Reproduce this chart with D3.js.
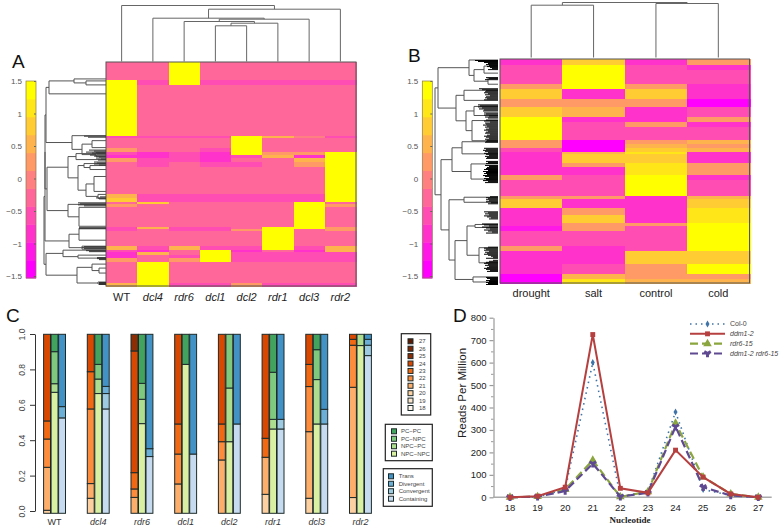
<!DOCTYPE html>
<html>
<head>
<meta charset="utf-8">
<style>
  body { margin: 0; background: #fff; }
  svg { display: block; font-family: "Liberation Sans", Arial, sans-serif; }
</style>
<script src="https://cdn.jsdelivr.net/npm/d3@7"></script>
</head>
<body>
<svg id="fig" width="784" height="528"></svg>
<script>
const Y = 1.5;
const P = -0.3; // base pink
const M = -0.6;
const H = -0.9;
const X = -1.5;

const heatColors = ['#ff00ff', '#ff19e6', '#ff33cc', '#ff4db3', '#ff6699', '#ff8080', '#ff9966', '#ffb34d', '#ffcc33', '#ffe619', '#ffff00'];
const barTicks = [-1.5, -1, -0.5, 0, 0.5, 1, 1.5];

// panel A: [row count, WT, dcl4, rdr6, dcl1, dcl2, rdr1, dcl3, rdr2]
const samplesA = ['WT', 'dcl4', 'rdr6', 'dcl1', 'dcl2', 'rdr1', 'dcl3', 'rdr2'];
const rowsA = [
  [18, P, P, Y, P, P, P, P, P],
  [5, Y, M, Y, M, M, M, M, M],
  [51, Y, P, P, P, P, P, P, P],
  [2, M, M, M, M, Y, 0.6, 0, M],
  [10, P, P, P, P, Y, P, P, P],
  [4, 0.3, P, P, M, Y, P, P, P],
  [3, M, H, M, H, Y, 0.3, 0.3, Y],
  [3, H, H, M, H, M, 0.6, H, Y],
  [4, 0.3, M, M, H, P, P, 0.6, Y],
  [5, P, M, P, M, M, P, 0.3, Y],
  [28, P, P, P, P, P, P, P, Y],
  [4, 0.6, M, M, M, M, M, M, Y],
  [4, 0.9, M, M, M, M, M, M, Y],
  [2, P, 0.9, P, P, P, P, Y, P],
  [3, 0.3, P, P, P, P, P, Y, 0.3],
  [20, P, P, P, P, P, P, Y, P],
  [2, M, 0.6, M, M, P, Y, Y, 0.3],
  [2, M, P, M, M, 0.3, Y, P, 0.3],
  [15, P, P, P, P, P, Y, P, P],
  [4, 0.6, M, 0.6, M, M, Y, M, 0.6],
  [2, M, H, P, Y, H, P, H, 0.6],
  [3, H, 0.6, P, Y, M, M, M, M],
  [3, H, P, M, Y, M, M, M, M],
  [4, 0.3, P, 0.3, Y, M, M, M, M],
  [21, P, Y, P, P, P, P, P, P],
  [3, 0.6, Y, M, M, 0.3, M, M, M],
];
const colTreeA = [56, 'WT', [52.3, [43.3, 'dcl4', [42.3, [40, 'rdr6', [38.3, [35.7, 'dcl1', 'dcl2'], 'rdr1']], 'dcl3']], 'rdr2']];
const rowTreeA = [62,
  [61,
    [61,
      [60,
        [57, 32, [32, 17, [20, 19, 23]]],
        [34, 74, [24, [14, 79, 86], [10, 91, 95]]],
      ],
      [59,
        [38, [30, 92, 98], [28, [22, 102, [16, 104, 108]], [20, [12, 115, 130], [8, 133, 137]]]],
        [38, 143, [27, 146, 165]],
      ],
    ],
    [37, [27, 167, 179], [24, 185, 188]],
  ],
  [60,
    [43, 189, [28, 194, 197]],
    [29, [14, 203, [7, 207, 212]], [8, 221, 223]],
  ],
];
// leaf bundles: [first row, reach of each following row]
const bundlesA = [
  [74, [22, 18]],
  [88, [17, 12, 20, 14, 9, 16, 12, 7, 10, 5, 8]],
  [100, [12, 9, 12, 7]],
  [135, [6, 10, 7]],
  [141, [28, 26, 28, 22]],
  [166, [27, 27]],
  [185, [22, 24, 22]],
  [189, [20, 17]],
  [196, [9, 9, 7]],
  [221, [7, 7, 7]],
];

// panel B: [row count, drought, salt, control, cold]
const samplesB = ['drought', 'salt', 'control', 'cold'];
const rowsB = [
  [6, H, 0.9, H, 0.3],
  [5, M, Y, M, H],
  [14, M, Y, M, M],
  [5, 0.3, Y, 0.3, H],
  [10, 0.9, H, 0.9, H],
  [8, 0.3, 0.3, 0.3, X],
  [9, 0.9, 0.6, H, M],
  [5, Y, H, H, 0.3],
  [5, Y, M, 0.3, H],
  [13, Y, M, M, M],
  [4, 0.3, X, 0.3, 0.6],
  [4, 0.3, X, 0.6, 0.3],
  [4, M, X, 0.9, 0.6],
  [2, H, 0.6, 1.2, H],
  [9, H, 0.9, 0.9, H],
  [4, H, 0.3, 1.2, 0.3],
  [8, H, H, 1.2, 0.3],
  [5, 0.3, M, Y, H],
  [16, M, M, Y, M],
  [3, 0.3, 0.3, H, 0.6],
  [9, 0.9, H, H, 0.9],
  [7, H, 0.3, H, 1.2],
  [8, H, 0.9, H, 1.2],
  [3, H, 0.3, 0.3, Y],
  [4, -1.2, 0.3, M, Y],
  [15, M, M, M, Y],
  [5, 0.3, H, M, Y],
  [13, H, H, 0.9, 0.9],
  [10, H, M, 0.3, Y],
  [5, X, 0.6, 0.3, 0.3],
  [4, X, 1.2, 0.6, 0.6],
];
const colTreeB = [55, [52.3, 'drought', 'salt'], [54, 'control', 'cold']];
const rowTreeB = [63,
  [60,
    [29, 1, [24, [14, 7, 14], [10, 19, 25]]],
    [42, [34, 31, 41], [32, [24, 47, 56], [26, 61, 81]]],
  ],
  [57,
    [46, [36, 82, 94], [27, 104, 119]],
    [49,
      [34, 137, 142],
      [43, [31, [23, 164, 167], [19, 187, 202]], [25, 216, 221]],
    ],
  ],
];
const bundlesB = [
  [1, [23, 20, 14, 10, 12, 9, 11, 8, 6, 10]],
  [18, [12, 9, 13]],
  [29, [19, 16, 12, 13, 14, 10, 13, 8, 12, 13, 11, 14]],
  [45, [20, 18, 20, 16, 19, 14, 15, 0, 14, 12, 14, 9, 13, 10, 0, 12, 14, 8, 13, 12, 15, 11, 13, 9, 12, 14, 10, 12, 13, 8, 11, 14, 12, 9, 13, 11, 12, 13]],
  [88, [14, 12, 15, 13, 10, 14, 12, 9, 13, 11, 12]],
  [101, [12, 10, 12, 0, 13, 9, 11, 12, 14, 10, 15, 12, 14, 11, 15, 13, 9, 14, 12, 15, 10, 13]],
  [136, [8, 12, 10, 12, 9, 12, 7, 10]],
  [151, [14, 10, 13, 9, 14, 11, 7, 9]],
  [163, [16, 14, 9, 16, 12, 8, 14, 10, 6, 12]],
  [186, [10, 14, 12, 14, 9, 13, 11, 14, 10, 7, 5, 12, 0, 5, 9, 12, 14, 10, 13, 9, 11, 14, 12, 8, 11]],
  [216, [12, 11, 8, 12, 9, 12, 10, 12]],
];

// panel C shares
const samplesC = ['WT', 'dcl4', 'rdr6', 'dcl1', 'dcl2', 'rdr1', 'dcl3', 'rdr2'];
const sizeKeys = ['18', '19', '20', '21', '22', '23', '24', '25', '26', '27'];
const sizeColors = ['#fff5eb', '#fee6ce', '#fdd0a2', '#fdae6b', '#fd8d3c', '#f16913', '#d94801', '#8c2d04', '#7f2704', '#5c1a02'];
const sizeShares = [
  [0, 0, 0.017, 0.24, 0.158, 0.101, 0.484, 0, 0, 0],
  [0, 0, 0.084, 0.082, 0.417, 0.208, 0.209, 0, 0, 0],
  [0, 0, 0, 0.089, 0.047, 0.091, 0.68, 0.093, 0, 0],
  [0, 0, 0, 0.164, 0.167, 0.168, 0.501, 0, 0, 0],
  [0, 0, 0, 0.298, 0.102, 0.099, 0.501, 0, 0, 0],
  [0, 0, 0.106, 0.207, 0, 0.106, 0.581, 0, 0, 0],
  [0, 0, 0.084, 0.372, 0.252, 0.124, 0.168, 0, 0, 0],
  [0, 0, 0.088, 0.616, 0.235, 0.033, 0.028, 0, 0, 0],
];
const pairKeys = ['NPC-NPC', 'NPC-PC', 'PC-NPC', 'PC-PC'];
const pairColors = ['#d9f0a3', '#addd8e', '#7fc97f', '#41a35d'];
const pairShares = [
  [0.676, 0.048, 0.179, 0.097],
  [0.669, 0.081, 0.082, 0.168],
  [0.501, 0.136, 0.089, 0.274],
  [0.832, 0, 0, 0.168],
  [0.4, 0.3, 0.3, 0],
  [0.471, 0.054, 0.263, 0.212],
  [0.499, 0.248, 0.167, 0.086],
  [0.937, 0.063, 0, 0],
];
const overlapKeys = ['Containing', 'Convergent', 'Divergent', 'Trans'];
const overlapColors = ['#c6dbef', '#9ecae1', '#6baed6', '#4292c6'];
const overlapShares = [
  [0.533, 0, 0.063, 0.404],
  [0.583, 0.086, 0.04, 0.291],
  [0.317, 0, 0.044, 0.639],
  [0.331, 0, 0, 0.669],
  [0.499, 0, 0, 0.501],
  [0.471, 0.054, 0, 0.475],
  [0.499, 0, 0.082, 0.419],
  [0.881, 0.058, 0.033, 0.028],
];

// panel D
const nucleotides = [18, 19, 20, 21, 22, 23, 24, 25, 26, 27];
const col0 = [0, 2, 35, 600, 5, 25, 380, 35, 8, 0];
const ddm12 = [0, 5, 45, 725, 40, 20, 210, 90, 15, 0];
const rdr615 = [0, 3, 35, 165, 2, 25, 330, 90, 15, 0];
const double15 = [0, 3, 28, 150, 3, 20, 315, 45, 8, 0];
const lineNames = ['Col-0', 'ddm1-2', 'rdr6-15', 'ddm1-2 rdr6-15'];

const svg = d3.select('#fig');
const heatColor = d3.scaleQuantize().domain([-1.65, 1.65]).range(heatColors);

const panelLetter = (txt, x, y) => {
  svg.append('text').attr('x', x).attr('y', y)
    .style('font-size', '19px').style('fill', '#111').text(txt);
};

// turn [height, left, right] arrays into a hierarchy and draw the elbows
const drawTree = (tree, leafPos, heightPos, horizontal, color) => {
  const root = d3.hierarchy(tree, d => (Array.isArray(d) ? d.slice(1) : null));
  const g = svg.append('g').attr('fill', 'none').attr('stroke', color);
  root.eachAfter((n) => {
    n.pos = n.children ? d3.mean(n.children, c => c.pos) : leafPos(n.data);
    n.at = heightPos(n.children ? n.data[0] : 0);
  });
  root.descendants().filter(n => n.children).forEach((n) => {
    const [a, b] = n.children;
    const pts = [[a.at, a.pos], [n.at, a.pos], [n.at, b.pos], [b.at, b.pos]];
    g.append('path')
      .attr('d', d3.line().x(p => (horizontal ? p[0] : p[1])).y(p => (horizontal ? p[1] : p[0]))(pts));
  });
};

const drawColorbar = (left, top, bottom, labelSize) => {
  const barW = 10;
  const bands = d3.scaleBand().domain(d3.range(heatColors.length)).range([bottom, top]);
  svg.append('g').selectAll('rect')
    .data(heatColors)
    .enter()
    .append('rect')
    .attr('x', left)
    .attr('y', (d, i) => bands(i))
    .attr('width', barW)
    .attr('height', bands.bandwidth() + 0.5)
    .attr('fill', d => d);
  const scale = d3.scaleLinear().domain([-1.5, 1.5]).range([bottom - 2, top]);
  const ax = svg.append('g')
    .attr('transform', `translate(${left},0)`)
    .call(d3.axisLeft(scale).tickValues(barTicks).tickSize(0).tickPadding(4).tickFormat(d3.format('')));
  ax.select('.domain').remove();
  ax.selectAll('text').style('font-size', `${labelSize}px`).style('fill', '#555').style('font-family', 'inherit');
  const ax2 = svg.append('g')
    .attr('transform', `translate(${left + barW},0)`)
    .call(d3.axisRight(scale).tickValues(barTicks).tickSize(-2).tickFormat(''));
  ax2.select('.domain').remove();
  ax2.selectAll('line').attr('stroke', '#665');
  svg.append('rect').attr('x', left).attr('y', top).attr('width', barW).attr('height', bottom - top)
    .attr('fill', 'none').attr('stroke', '#8a7a50').attr('stroke-width', 0.7);
};

const drawHeat = (opts) => {
  const { rows, samples, x0, x1, y0, y1, colTree, rowTree, bundles, dendroBase, bundleColor, rootLeft, italic } = opts;
  const total = d3.sum(rows, r => r[0]);
  const x = d3.scaleBand().domain(samples).range([x0, x1]);
  const y = d3.scaleLinear().domain([0, total]).range([y0, y1]);
  let acc = 0;
  const stacked = rows.map((r) => {
    const row = { from: acc, vals: r.slice(1), span: r[0] };
    acc += r[0];
    return row;
  });

  const rowG = svg.append('g').attr('shape-rendering', 'crispEdges').selectAll('g')
    .data(stacked)
    .enter()
    .append('g');
  rowG.selectAll('rect')
    .data(d => d.vals.map((v, i) => ({ v, name: samples[i], from: d.from, span: d.span })))
    .enter()
    .append('rect')
    .attr('x', d => x(d.name))
    .attr('y', d => y(d.from))
    .attr('width', x.bandwidth() + 1)
    .attr('height', d => y(d.span) - y(0) + 1)
    .attr('fill', d => heatColor(d.v));

  svg.append('rect')
    .attr('x', x0).attr('y', y0).attr('width', x1 - x0).attr('height', y1 - y0)
    .attr('fill', 'none').attr('stroke', '#555').attr('stroke-width', 1);

  // column labels
  svg.append('g').selectAll('text')
    .data(samples)
    .enter()
    .append('text')
    .attr('x', d => x(d) + (x.bandwidth() / 2))
    .attr('y', opts.labelY)
    .attr('text-anchor', 'middle')
    .style('font-size', `${opts.labelSize}px`)
    .style('font-style', d => (italic && d !== 'WT' ? 'italic' : 'normal'))
    .style('fill', '#222')
    .text(d => d);

  // dendrograms
  const colH = d3.scaleLinear().domain([0, 60]).range([dendroBase, dendroBase - 60]);
  drawTree(colTree, d => x(d) + (x.bandwidth() / 2), colH, false, '#666');
  const rowH = d3.scaleLinear().domain([0, 70]).range([x0 - rootLeft, x0 - rootLeft - 70]);
  drawTree(rowTree, d => y(d), rowH, true, '#555');
  const leaves = bundles.flatMap(b => b[1].map((r, i) => ({ row: b[0] + i, reach: r })));
  svg.append('g').selectAll('line')
    .data(leaves.filter(d => d.reach > 0))
    .enter()
    .append('line')
    .attr('x1', d => rowH(d.reach))
    .attr('x2', rowH(0))
    .attr('y1', d => y(d.row + 0.5))
    .attr('y2', d => y(d.row + 0.5))
    .attr('stroke', bundleColor);
};

// ---- A
panelLetter('A', 12, 68);
drawColorbar(26, 81, 278, 8);
drawHeat({
  rows: rowsA, samples: samplesA, x0: 106, x1: 356, y0: 62, y1: 286,
  colTree: colTreeA, rowTree: rowTreeA, bundles: bundlesA,
  dendroBase: 61.5, bundleColor: '#333', rootLeft: 0, italic: true, labelY: 301, labelSize: 11,
});

// ---- B
panelLetter('B', 408, 62);
drawColorbar(422.3, 81, 278, 8);
drawHeat({
  rows: rowsB, samples: samplesB, x0: 500, x1: 749.5, y0: 59, y1: 283,
  colTree: colTreeB, rowTree: rowTreeB, bundles: bundlesB,
  dendroBase: 57.5, bundleColor: '#000', rootLeft: 2, italic: false, labelY: 297, labelSize: 11,
});

// ---- C
panelLetter('C', 6, 322);
const groupX = d3.scaleBand().domain(samplesC).range([43.3, 371.7]).paddingInner(0.485).paddingOuter(0).align(0);
const innerX = d3.scaleBand().domain(['size', 'pair', 'overlap']).range([0, groupX.bandwidth()]);
const barY = d3.scaleLinear().domain([0, 1]).range([513.3, 334.3]);
const axisY = d3.scaleLinear().domain([0, 1]).range([511, 334]);

const drawStacks = (name, keys, colors, shares) => {
  const table = shares.map((row, i) => {
    const d = { sample: samplesC[i] };
    keys.forEach((k, j) => { d[k] = row[j]; });
    return d;
  });
  const layers = d3.stack().keys(keys)(table);
  const g = svg.append('g').selectAll('g')
    .data(layers)
    .enter()
    .append('g')
    .attr('fill', (d, i) => colors[i]);
  g.selectAll('rect')
    .data(d => d.filter(p => p[1] > p[0]))
    .enter()
    .append('rect')
    .attr('x', d => groupX(d.data.sample) + innerX(name) + 0.3)
    .attr('y', d => barY(d[1]))
    .attr('width', innerX.bandwidth() - 0.6)
    .attr('height', d => barY(d[0]) - barY(d[1]))
    .attr('stroke', '#1d2a2a')
    .attr('stroke-width', 1);
};
drawStacks('size', sizeKeys, sizeColors, sizeShares);
drawStacks('pair', pairKeys, pairColors, pairShares);
drawStacks('overlap', overlapKeys, overlapColors, overlapShares);

const axC = svg.append('g')
  .attr('transform', 'translate(35,0)')
  .call(d3.axisLeft(axisY).tickValues([0, 0.2, 0.4, 0.6, 0.8, 1]).tickSize(5).tickSizeOuter(0).tickPadding(4).tickFormat(d3.format('.1f')));
axC.selectAll('path,line').attr('stroke', '#333');
axC.selectAll('text')
  .style('font-size', '8.5px').style('fill', '#444').style('font-family', 'inherit')
  .attr('transform', 'translate(-13,0) rotate(-90)')
  .attr('x', 0)
  .attr('y', 0)
  .attr('dy', '0.32em')
  .attr('text-anchor', 'middle');

svg.append('g').selectAll('text')
  .data(samplesC)
  .enter()
  .append('text')
  .attr('x', d => groupX(d) + (groupX.bandwidth() / 2))
  .attr('y', 525)
  .attr('text-anchor', 'middle')
  .style('font-size', '9px')
  .style('font-style', d => (d === 'WT' ? 'normal' : 'italic'))
  .style('fill', '#333')
  .text(d => d);

const drawKey = (box, names, colors, swatchX, textX, rowY, size) => {
  svg.append('rect')
    .attr('x', box[0]).attr('y', box[1]).attr('width', box[2]).attr('height', box[3])
    .attr('fill', '#fff').attr('stroke', '#222').attr('stroke-width', 1.2);
  const row = svg.append('g').selectAll('g')
    .data(names)
    .enter()
    .append('g');
  row.append('rect')
    .attr('x', swatchX)
    .attr('y', (d, i) => rowY(i) - 2.5)
    .attr('width', 5)
    .attr('height', 5)
    .attr('fill', (d, i) => colors[i])
    .attr('stroke', '#1d2a2a');
  row.append('text')
    .attr('x', textX)
    .attr('y', (d, i) => rowY(i))
    .attr('dy', '0.35em')
    .style('font-size', `${size}px`)
    .style('fill', '#444')
    .text(d => d);
};
const reversed = arr => arr.slice().reverse();
drawKey([401.3, 333.7, 29.4, 81.3], reversed(sizeKeys), reversed(sizeColors), 408, 419,
  d3.scaleLinear().domain([0, 9]).range([341.3, 408]), 6);
drawKey([385.3, 424.3, 47, 36.4], reversed(pairKeys).map(s => s.replace('-', '\u2212')), reversed(pairColors), 391.5, 401,
  d3.scaleLinear().domain([0, 3]).range([431.3, 453.7]), 6);
drawKey([383.3, 468.7, 49, 37.6], reversed(overlapKeys), reversed(overlapColors), 388.5, 398.7,
  d3.scaleLinear().domain([0, 3]).range([476.3, 498.7]), 6);

// ---- D
panelLetter('D', 453, 322);
const lineX = d3.scalePoint().domain(nucleotides).range([510, 758.3]);
const lineY = d3.scaleLinear().domain([0, 800]).range([497.3, 317.7]);

const axD = svg.append('g')
  .attr('transform', 'translate(493.5,0)')
  .call(d3.axisLeft(lineY).tickValues(d3.range(0, 801, 100)).tickSize(4).tickSizeOuter(0).tickPadding(3));
axD.selectAll('path,line').attr('stroke', '#999').attr('stroke-width', 1.2);
axD.selectAll('text').style('font-size', '9.5px').style('fill', '#222').style('font-family', 'inherit');
svg.append('g').attr('transform', 'translate(493.5,0)')
  .call(d3.axisLeft(lineY).tickValues(d3.range(50, 800, 100)).tickSize(2.5).tickSizeOuter(0).tickFormat(''))
  .call(g => g.select('.domain').remove())
  .selectAll('line').attr('stroke', '#999');

svg.append('line')
  .attr('x1', 493).attr('x2', 771.7).attr('y1', lineY(0)).attr('y2', lineY(0))
  .attr('stroke', '#aaa').attr('stroke-width', 1.5);

svg.append('g').selectAll('text')
  .data(nucleotides)
  .enter()
  .append('text')
  .attr('x', d => lineX(d))
  .attr('y', 511)
  .attr('text-anchor', 'middle')
  .style('font-size', '9.5px')
  .style('fill', '#222')
  .text(d => d);

svg.append('text')
  .attr('transform', 'translate(466,393) rotate(-90)')
  .attr('text-anchor', 'middle')
  .style('font-size', '11.5px')
  .style('fill', '#222')
  .text('Reads Per Million');
svg.append('text')
  .attr('x', 630).attr('y', 523)
  .attr('text-anchor', 'middle')
  .style('font-family', '"Liberation Serif", serif')
  .style('font-weight', 'bold')
  .style('font-size', '9px')
  .style('fill', '#222')
  .text('Nucleotide');

const lineStyles = [
  { name: lineNames[0], vals: col0, color: '#3f74a8', dash: '1.5 4', width: 1.6, symbol: d3.symbolDiamond, size: 14, row: 0 },
  { name: lineNames[2], vals: rdr615, color: '#8ca63f', dash: '8 4', width: 2.2, symbol: d3.symbolTriangle, size: 32, row: 2 },
  { name: lineNames[3], vals: double15, color: '#5f4a91', dash: '8 4', width: 2.2, symbol: d3.symbolWye, size: 30, row: 3 },
  { name: lineNames[1], vals: ddm12, color: '#b5403f', dash: null, width: 2, symbol: d3.symbolSquare, size: 24, row: 1 },
];
const path = d3.line().x((d, i) => lineX(nucleotides[i])).y(d => lineY(d));
const keyY = d3.scaleLinear().domain([0, 3]).range([324, 353.5]);
lineStyles.forEach((s) => {
  svg.append('path')
    .attr('d', path(s.vals))
    .attr('fill', 'none')
    .attr('stroke', s.color)
    .attr('stroke-width', s.width)
    .attr('stroke-dasharray', s.dash);
  svg.append('g').selectAll('path')
    .data(s.vals)
    .enter()
    .append('path')
    .attr('d', d3.symbol().type(s.symbol).size(s.size))
    .attr('transform', (d, i) => `translate(${lineX(nucleotides[i])},${lineY(d)})`)
    .attr('fill', s.color);

  // legend row
  svg.append('line')
    .attr('x1', 690).attr('x2', 725).attr('y1', keyY(s.row)).attr('y2', keyY(s.row))
    .attr('stroke', s.color)
    .attr('stroke-width', s.width)
    .attr('stroke-dasharray', s.dash);
  svg.append('path')
    .attr('d', d3.symbol().type(s.symbol).size(s.size))
    .attr('transform', `translate(707.5,${keyY(s.row)})`)
    .attr('fill', s.color);
  svg.append('text')
    .attr('x', 730)
    .attr('y', keyY(s.row))
    .attr('dy', '0.35em')
    .style('font-size', '7px')
    .style('font-style', s.row === 0 ? 'normal' : 'italic')
    .style('fill', '#444')
    .text(s.name);
});
</script>
</body>
</html>
